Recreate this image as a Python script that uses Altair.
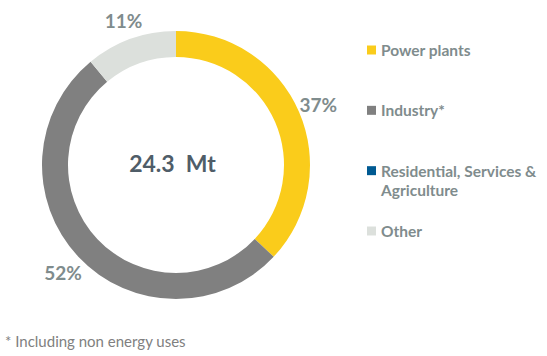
import altair as alt
import pandas as pd

categories = ["Power plants", "Industry*", "Residential, Services & Agriculture", "Other"]
shares = [37, 52, 0, 11]
pct_labels = ["37%", "52%", "", "11%"]
legend_labels = ["Power plants", "Industry*", "Residential, Services &\nAgriculture", "Other"]
colors = ["#FACC1B", "#808080", "#005A92", "#DCE0DC"]
total_label = "24.3\u00a0\u00a0Mt"
footnote = "* Including non energy uses"

df = pd.DataFrame({
    "cat": categories,
    "value": shares,
    "pct": pct_labels,
    "order": list(range(len(categories))),
    "leg": legend_labels,
})

FONT = "Lato"
TXT = "#7F8C8D"
CX, CY = 176, 165

color_scale = alt.Scale(domain=categories, range=colors)

base = alt.Chart(df)

arc = base.mark_arc(outerRadius=134, innerRadius=108).encode(
    theta=alt.Theta("value:Q", stack=True),
    order=alt.Order("order:Q"),
    color=alt.Color("cat:N", scale=color_scale, legend=None),
    x=alt.value(CX), y=alt.value(CY),
)

labels = base.mark_text(radius=155, font=FONT, fontSize=19, fontWeight="bold", color=TXT,
                        dy=3).encode(
    theta=alt.Theta("value:Q", stack=True),
    order=alt.Order("order:Q"),
    text="pct:N",
    x=alt.value(CX), y=alt.value(CY),
)

leg_y = alt.Y("cat:N", scale=alt.Scale(type="point", domain=categories, range=[50, 231], padding=0), axis=None)

leg_sq = base.mark_square(size=81, opacity=1).encode(
    x=alt.value(371.5),
    y=leg_y,
    color=alt.Color("cat:N", scale=color_scale, legend=None),
)

leg_txt = base.mark_text(align="left", baseline="alphabetic", dy=6, font=FONT, fontSize=15.5,
                         fontWeight="bold", color=TXT, lineBreak="\n", lineHeight=19).encode(
    x=alt.value(381),
    y=leg_y,
    text="leg:N",
)

center = alt.Chart(pd.DataFrame({"t": [total_label]})).mark_text(
    font=FONT, fontSize=23, fontWeight="bold", color="#4F5D68", align="center", baseline="middle"
).encode(x=alt.value(172.5), y=alt.value(165), text="t:N")

foot = alt.Chart(pd.DataFrame({"t": [footnote]})).mark_text(
    font=FONT, fontSize=15, color="#808080", align="left", baseline="middle"
).encode(x=alt.value(5), y=alt.value(342), text="t:N")

chart = alt.layer(arc, labels, leg_sq, leg_txt, center, foot).properties(
    width=547, height=356, autosize=alt.AutoSizeParams(type="none"), padding=0
).configure_view(stroke=None)

chart.save("out.html", embed_options={"renderer": "svg", "actions": False})
